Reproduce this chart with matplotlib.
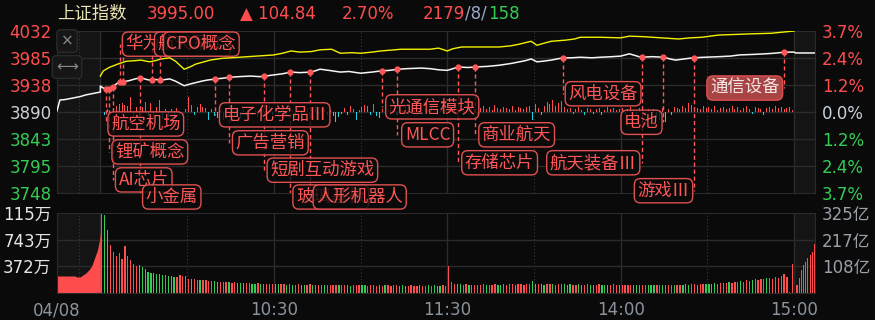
import numpy as np
import matplotlib
matplotlib.use('Agg')
import matplotlib.pyplot as plt

plt.rcParams['font.family'] = ['DejaVu Sans', 'Noto Sans CJK SC']
CJK = ['Noto Sans CJK SC', 'DejaVu Sans']

# ---- data (minutes from 09:30, lunch break removed; pre-market < 0) ----
prev_close = 3890.16
price_ticks = [4032, 3985, 3938, 3890, 3843, 3795, 3748]
pct_labels = ['3.7%', '2.4%', '1.2%', '0.0%', '1.2%', '2.4%', '3.7%']
vol_ticks = [1115, 743, 372]
vol_labels = ['115万', '743万', '372万']
amt_labels = ['325亿', '217亿', '108亿']
time_ticks = [-15, 60, 120, 180, 240]
time_labels = ['04/08', '10:30', '11:30', '14:00', '15:00']

index_t = [-15, -14, -12, -10, -7, -5, -3, -1, 0, 0, 1, 2, 3, 5, 6, 8, 10, 12, 14, 16,
           17, 19, 21, 24, 26, 29, 31, 35, 37, 40, 42, 45, 48, 52, 55, 57, 60, 63, 66, 69,
           73, 76, 79, 83, 86, 90, 94, 97, 100, 103, 106, 111, 114, 117, 120, 122, 124, 127, 130, 134,
           138, 142, 145, 147, 149, 151, 153, 156, 160, 163, 166, 170, 173, 177, 180, 183, 185, 187, 191, 195,
           197, 199, 202, 205, 209, 214, 218, 221, 226, 230, 233, 237, 240, 240.5, 247.2]
index_p = [3892, 3911, 3912, 3914, 3917, 3920, 3922, 3924, 3925, 3935.6, 3932, 3929, 3930, 3937, 3941, 3943, 3945, 3948, 3950, 3947,
           3946, 3947, 3946, 3948, 3944, 3936, 3939, 3944, 3946, 3948, 3949, 3951, 3952, 3953, 3952, 3953, 3955, 3957, 3960, 3959,
           3960, 3965, 3963, 3960, 3961, 3958, 3960, 3962, 3963, 3965, 3966, 3967, 3966, 3964, 3963, 3966, 3969, 3968, 3969, 3970,
           3972, 3975, 3978, 3980, 3983, 3978, 3979, 3981, 3985, 3985, 3986, 3985, 3986, 3987, 3988, 3992, 3989, 3986, 3987, 3986,
           3983, 3981, 3983, 3985, 3986, 3987, 3988, 3990, 3991, 3992, 3993, 3995, 3995, 3993.5, 3993.5]

other_t = [0, 1, 3, 6, 9, 12, 14, 17, 19, 21, 24, 26, 29, 31, 33, 38, 42, 48, 54, 60,
           63, 66, 69, 73, 76, 80, 83, 87, 90, 94, 97, 104, 110, 114, 117, 120, 122, 125, 131, 138,
           142, 145, 149, 151, 153, 156, 161, 164, 166, 173, 180, 183, 188, 194, 200, 204, 208, 214, 220, 225,
           232, 236, 240]
other_p = [3953, 3962, 3968, 3974, 3979, 3980, 3981, 3978, 3980, 3983, 3985, 3979, 3965, 3969, 3974, 3981, 3984, 3986, 3988, 3990,
           3993, 3997, 3995, 3996, 3999, 4000, 3993, 3994, 3993, 3995, 3997, 4000, 4000, 4000, 4002, 3997, 4001, 4004, 4004, 4004,
           4006, 4009, 4014, 4007, 4010, 4014, 4016, 4018, 4021, 4021, 4020, 4023, 4022, 4020, 4018, 4020, 4021, 4025, 4026, 4027,
           4028, 4030, 4032]

# up/down balance per minute (drawn around the zero line)
flow = [0, -3, 3, 0, 4, 6, 8, 9, 7, 6,
        15, -6, 5, -5, 5, 10, -4, 9, -6, 5,
        12, -7, 3, -5, 3, -6, 4, -3, 0, 3,
        15, 7, -3, 5, 8, 5, 4, -8, 3, -4,
        -6, 2, -8, 4, -5, 3, -3, 2, -6, 3,
        -4, 5, -3, 2, -5, 4, 3, -2, 6, -3,
        4, -2, 5, 3, -4, 6, 2, -5, 3, -2,
        5, 4, -3, 2, 6, -2, 3, 4, -3, 2,
        -4, -10, -5, -2, 4, -3, 6, 3, -8, 2,
        5, 7, 6, -3, 8, -4, -6, 3, 4, 2,
        5, 3, -3, 4, 2, 6, -2, 3, 5, 2,
        3, -3, 4, 2, 5, 3, -2, 4, 3, 2,
        3, 5, 4, -3, 6, 3, 2, 4, 5, 3,
        -3, 4, 6, 3, 5, 2, 7, 4, 3, 5,
        4, 3, 6, 2, 5, 4, 3, 5, 6, -8,
        8, 4, -3, 6, 10, 8, 12, 6, 9, 11,
        5, 3, 4, -2, 3, 5, 2, -3, 4, 3,
        -2, 3, 4, -3, 2, 5, 3, 4, 2, 3,
        4, -2, 3, 5, 2, -3, 4, 2, -4, 3,
        -2, 3, -6, -8, 4, -10, 3, -3, 5, 4,
        3, 6, 4, 9, 7, 5, 4, 3, 6, 4,
        5, 3, 6, 2, 4, 5, 3, 4, 6, 3,
        5, 2, 4, 6, 3, -2, 5, 4, 3, -3,
        4, 5, 3, 6, 4, 5, 3, 4, 5, 2]

# volume (万手) per minute
volume = [1115, 1085, 880, 670, 570, 515, 560, 475, 655, 515,
          460, 405, 375, 390, 360, 335, 295, 280, 280, 265,
          265, 250, 250, 240, 235, 225, 225, 250, 240, 230,
          200, 195, 190, 185, 180, 180, 175, 170, 165, 165,
          160, 160, 155, 150, 150, 145, 150, 140, 140, 140,
          135, 140, 130, 130, 135, 125, 130, 125, 125, 120,
          125, 120, 120, 125, 115, 120, 115, 115, 120, 110,
          115, 110, 125, 115, 110, 105, 115, 110, 105, 110,
          110, 105, 110, 115, 105, 110, 100, 105, 110, 105,
          105, 110, 100, 105, 115, 100, 105, 100, 110, 105,
          100, 105, 110, 100, 105, 100, 95, 105, 100, 100,
          105, 95, 100, 105, 100, 110, 95, 100, 110, 100,
          375, 160, 130, 120, 125, 115, 120, 110, 115, 110,
          115, 110, 120, 115, 110, 115, 120, 110, 115, 120,
          115, 120, 125, 115, 130, 120, 115, 125, 120, 165,
          130, 125, 120, 115, 125, 120, 130, 115, 120, 125,
          120, 115, 120, 110, 115, 120, 110, 115, 120, 110,
          115, 110, 120, 115, 110, 115, 110, 120, 110, 115,
          115, 110, 105, 110, 115, 105, 110, 105, 110, 115,
          105, 110, 105, 115, 110, 105, 115, 110, 105, 110,
          115, 110, 120, 115, 125, 120, 115, 130, 125, 120,
          130, 125, 135, 130, 140, 145, 135, 150, 145, 160,
          155, 165, 160, 175, 170, 180, 190, 185, 200, 195,
          205, 215, 200, 225, 210, 235, 265, 225, 20, 405]
vol_dir = ("rggrrrrrrr" "rrrggggggg" "ggrgggrrrr" "rgrrgrrrrg" "grrrgrrggg" "rrggrgrrrr"
           "ggrrgrgrrg" "grrgrrrgrr" "rrgrrggrrr" "ggrrrrgrgr" "rrrgggrrrr" "grrgrgggrr"
           "rrrggrrgrr" "rrrgrrrggr" "rrrgrrrrrg" "grggrrgrrr" "gggrrggrrg" "grrgggrrrg"
           "rrrrgggrrg" "ggrrgrrrgr" "rgggrrgrrg" "gggrrrrgrr" "rgrrrgrrrr" "grrrrrrrrr")
pre_t = [-15, -12, -9, -8, -7, -5, -4, -3, -2, -1, -0.3, 0]
pre_vol = [237, 237, 237, 223, 223, 279, 320, 376, 488, 600, 739, 850]
post_vol = [112, 209, 320, 390, 432, 488, 530, 572, 683]

# sector tags: minute of the event and tag text
event_t = [1.8, 3.0, 4.2, 13.8, 6.9, 8.0, 18, 20.7, 39.8, 44.6, 56.7, 65.7, 72.6,
           97.5, 102.7, 123.8, 129.7, 160.1, 187.4, 194.7, 205.4, 236.5]
event_tag = ['航空机场', '锂矿概念', 'AI芯片', '小金属', '华为欧拉', '华为欧拉', '航天军工', 'CPO概念',
             '电子化学品Ⅲ', '广告营销', '短剧互动游戏', '玻璃基板', '人形机器人', '光通信模块', 'MLCC',
             '存储芯片', '商业航天', '风电设备', '航天装备Ⅲ', '电池', '游戏Ⅲ', '通信设备']

# layout of the tag boxes (centre minute, centre price), back to front
tag_pos = {'华为欧拉': (20.7, 4009), '航天军工': (31.8, 4009), '玻璃基板': (79.7, 3741),
           'CPO概念': (34.9, 4009), '航空机场': (15.7, 3869), '锂矿概念': (17.1, 3820),
           'AI芯片': (15.0, 3771), '小金属': (24.7, 3741), '电子化学品Ⅲ': (60.3, 3885),
           '广告营销': (58.8, 3836), '短剧互动游戏': (76.8, 3788), '人形机器人': (89.7, 3741),
           '光通信模块': (114.8, 3899), 'MLCC': (113.2, 3850), '商业航天': (144.0, 3850),
           '存储芯片': (138.1, 3801), '航天装备Ⅲ': (170.5, 3801), '风电设备': (173.9, 3922),
           '电池': (187.2, 3872), '游戏Ⅲ': (194.8, 3752), '通信设备': (222.9, 3932)}

BG = '#0a0a0a'
SHADE = '#141414'
GRID = '#2b2b2b'
RED = '#ff4d4d'
GREEN = '#33cc55'
CYAN = '#1fd3e3'
TAG_RED = '#ff5757'

W, H = 875, 320
fig = plt.figure(figsize=(W / 100, H / 100), dpi=100)
fig.patch.set_facecolor(BG)


def rect(x0, y0, x1, y1):
    return [x0 / W, 1 - y1 / H, (x1 - x0) / W, (y1 - y0) / H]


ax = fig.add_axes(rect(57, 31, 815, 193))
axv = fig.add_axes(rect(57, 213, 815, 293))
xmin, xmax = -15, 247.2
for a in (ax, axv):
    a.set_facecolor(BG)
    a.set_xlim(xmin, xmax)
    a.axvspan(xmin, 0, color=SHADE, zorder=0, lw=0)
    a.axvspan(240, xmax, color=SHADE, zorder=0, lw=0)
    for s in a.spines.values():
        s.set_color(GRID)
    for t in (0, 60, 120, 180, 240):
        a.axvline(t, color=GRID, lw=1, zorder=1)
    for t in (-7.5, 30, 90, 150, 210):
        a.axvline(t, color='#3a3a3a', lw=0.8, ls=(0, (1, 2)), zorder=1)
    a.tick_params(length=0)

# price panel
ax.set_ylim(price_ticks[-1], price_ticks[0])
for p in price_ticks[1:-1]:
    ax.axhline(p, color=GRID, lw=1, zorder=1)
ax.set_xticks([])
ax.set_yticks(price_ticks)
ax.set_yticklabels(price_ticks, fontsize=12)
side_colors = [RED] * 3 + ['#c9d1da'] + [GREEN] * 3
for lbl, c in zip(ax.get_yticklabels(), side_colors):
    lbl.set_color(c)
ax.tick_params(axis='y', pad=4)
ax2 = ax.twinx()
ax2.set_ylim(ax.get_ylim())
ax2.set_yticks(price_ticks)
ax2.set_yticklabels(pct_labels, fontsize=12)
for lbl, c in zip(ax2.get_yticklabels(), side_colors):
    lbl.set_color(c)
ax2.tick_params(length=0, pad=5)
for s in ax2.spines.values():
    s.set_visible(False)

minutes = np.arange(len(flow))
flow = np.array(flow, dtype=float)
k = (price_ticks[0] - price_ticks[-1]) / 162.0
ax.bar(minutes + 0.5, flow * k, bottom=prev_close, width=0.35,
       color=np.where(flow >= 0, RED, CYAN), zorder=2)

ax.plot(other_t, other_p, color='#f2f200', lw=1.0, zorder=3)
ax.plot(index_t, index_p, color='#f5f5f5', lw=1.1, zorder=3)

dot_p = np.interp(event_t, index_t[9:], index_p[9:])
for t, p, tag in zip(event_t, dot_p, event_tag):
    ax.plot([t, t], [p, tag_pos[tag][1]], color=TAG_RED, lw=1,
            ls=(0, (3, 2)), zorder=3)
ax.plot(event_t, dot_p, 'o', ms=3.5, color=TAG_RED, zorder=4)

for i, (tag, (t, p)) in enumerate(tag_pos.items()):
    filled = tag == '通信设备'
    ax.text(t, p, tag, ha='center', va='center', fontsize=12.5, family=CJK,
            color='#f3e6e6' if filled else TAG_RED, zorder=6 + i, clip_on=False,
            bbox=dict(boxstyle='round,pad=0.18,rounding_size=0.35',
                      fc='#a94444' if filled else (0.04, 0.04, 0.04, 0.8),
                      ec='#e05050', lw=1))

# volume panel
axv.set_ylim(0, vol_ticks[0])
for v in vol_ticks[1:]:
    axv.axhline(v, color=GRID, lw=1, zorder=1)
axv.fill_between(pre_t, pre_vol, color=RED, lw=0, zorder=2)
vcol = [RED if d == 'r' else GREEN for d in vol_dir]
axv.bar(minutes + 0.5, volume, width=0.45, color=vcol, zorder=2)
axv.bar(241 + 0.75 * np.arange(len(post_vol)), post_vol, width=0.4, color=RED, zorder=2)
axv.set_yticks(vol_ticks)
axv.set_yticklabels(vol_labels, fontsize=12, color='#e6e6e6')
axv.tick_params(axis='y', pad=4)
axv.set_xticks(time_ticks)
axv.set_xticklabels(time_labels, fontsize=12, color='#8a949e')
axv.tick_params(axis='x', pad=6)
axv2 = axv.twinx()
axv2.set_ylim(axv.get_ylim())
axv2.set_yticks(vol_ticks)
axv2.set_yticklabels(amt_labels, fontsize=12, color='#9aa0a8')
axv2.tick_params(length=0, pad=5)
for s in axv2.spines.values():
    s.set_visible(False)

# header
def ftext(x, y, s, **kw):
    fig.text(x / W, 1 - y / H, s, va='center', **kw)

ftext(57, 14, '上证指数', fontsize=12.5, family=CJK, color='#ebe5b5')
ftext(147, 14, '3995.00', fontsize=12, color=RED)
ftext(240, 14, '▲ 104.84', fontsize=12, color=RED)
ftext(342, 14, '2.70%', fontsize=12, color=RED)
ftext(423, 14, '2179', fontsize=12, color=RED)
ftext(465, 14, '/8/', fontsize=12, color='#9aa8c4')
ftext(488, 14, '158', fontsize=12, color=GREEN)

# chart tool buttons
for y, s in ((41, '×'), (67, '⟷')):
    ftext(67, y, s, ha='center', fontsize=11, color='#8a8a8a',
          bbox=dict(boxstyle='round,pad=0.25', fc='#161616', ec='#2a2a2a', lw=1))

fig.savefig('out.png', dpi=100, facecolor=BG)
